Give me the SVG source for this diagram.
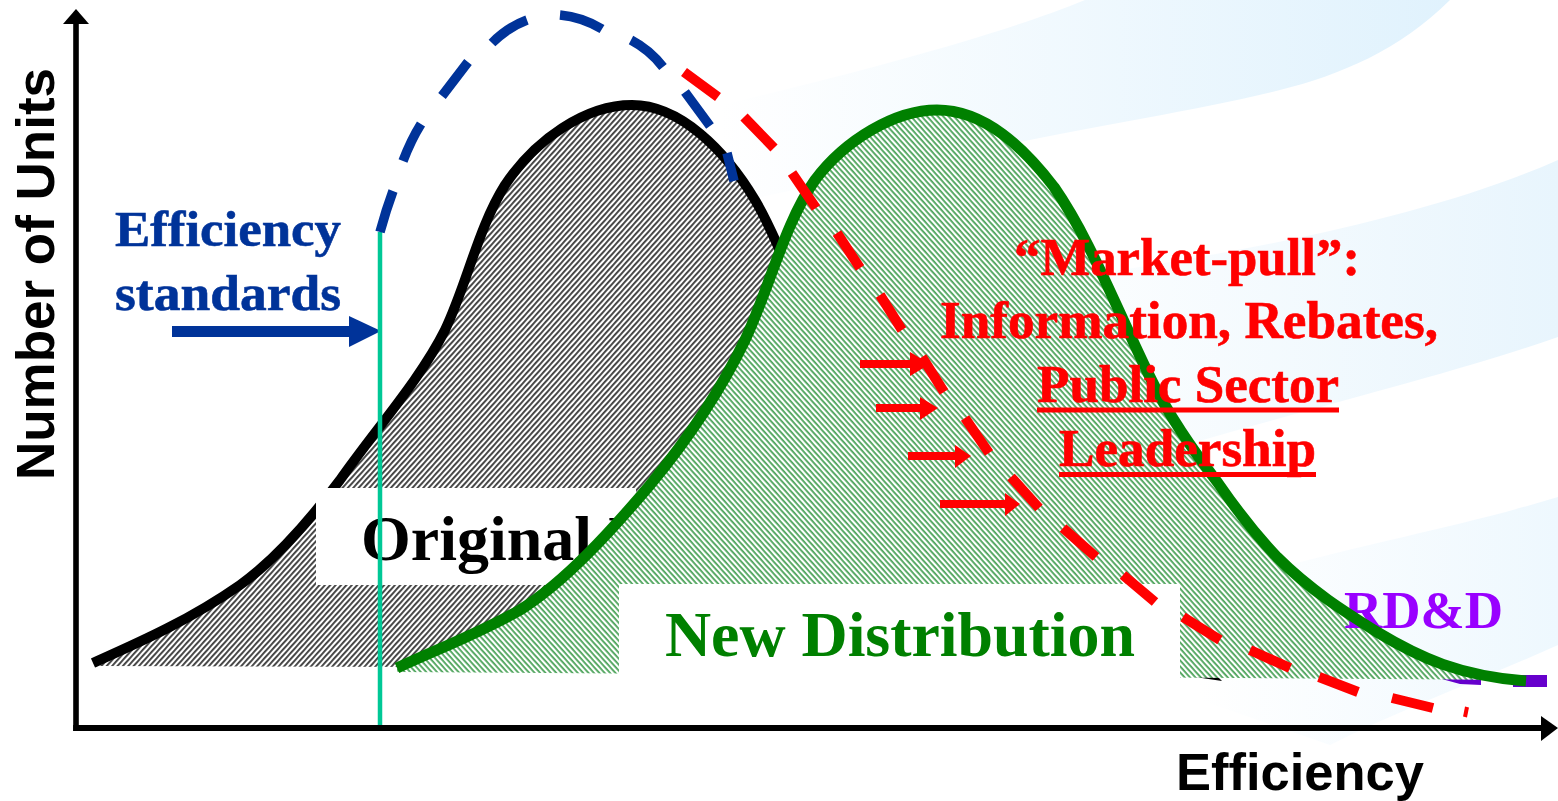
<svg xmlns="http://www.w3.org/2000/svg" width="1558" height="801" viewBox="0 0 1558 801">
<style>
.serif{font-family:"Liberation Serif","Times New Roman",serif;font-weight:700}
.sans{font-family:"Liberation Sans",Arial,sans-serif;font-weight:700}
.red{fill:#ff0000;stroke:#ff0000;stroke-width:.6px;font-size:52px}
.blue{fill:#003399;stroke:#003399;stroke-width:.6px;font-size:51px}
.big{font-size:64px}
.rs{fill:none;stroke:#ff0000;stroke-width:10}
.bs{fill:none;stroke:#003399;stroke-width:9.500}
</style>
<defs>
<linearGradient id="g1" gradientUnits="userSpaceOnUse" x1="720" y1="0" x2="1450" y2="0"><stop offset="0" stop-color="#ffffff"/><stop offset="1" stop-color="#e0f2fd"/></linearGradient>
<linearGradient id="g2" gradientUnits="userSpaceOnUse" x1="1000" y1="0" x2="1558" y2="0"><stop offset="0" stop-color="#ffffff"/><stop offset="1" stop-color="#e8f5fd"/></linearGradient>
<linearGradient id="g3" gradientUnits="userSpaceOnUse" x1="1200" y1="0" x2="1558" y2="0"><stop offset="0" stop-color="#ffffff"/><stop offset="1" stop-color="#eef8fe"/></linearGradient>
<pattern id="hb" patternUnits="userSpaceOnUse" width="4" height="4" patternTransform="rotate(-48)">
<rect width="4" height="4" fill="#ffffff"/><rect width="4" height="1.900" fill="#404040"/>
</pattern>
<pattern id="hg" patternUnits="userSpaceOnUse" width="4" height="4" patternTransform="rotate(48)">
<rect width="4" height="4" fill="#ffffff"/><rect width="4" height="1.800" fill="#4ca35a"/>
</pattern>
</defs>
<rect width="1558" height="801" fill="#ffffff"/>
<g id="background">
<path fill="url(#g1)" d="M700,110 C850,75 1000,35 1085,0 L1450,0 C1400,50 1340,75 1280,90 C1200,110 1100,125 1020,142 L700,210 Z"/>
<path fill="url(#g2)" d="M900,300 C1150,270 1400,230 1558,160 L1558,337 C1450,375 1300,410 1100,470 L900,500 Z"/>
<path fill="url(#g3)" d="M1200,590 C1350,545 1450,530 1558,497 L1558,645 C1480,680 1400,710 1330,745 L1200,700 Z"/>
</g>
<g id="original-distribution">
<path fill="url(#hb)" d="M100,666 L93,663 C140,642 190,620 240,585 C275,560 310,520 340,480 C375,430 420,380 445,330 C467,284 478,228 505,185 C535,140 585,105 632,105 C680,105 725,150 755,200 C768,222 775,240 782,255 L782,668 Z"/>
<path fill="none" stroke="#000000" stroke-width="10" d="M93,663 C140,642 190,620 240,585 C275,560 310,520 340,480 C375,430 420,380 445,330 C467,284 478,228 505,185 C535,140 585,105 632,105 C680,105 725,150 755,200 C768,222 775,240 782,255"/>
<path fill="#000000" d="M1195,677 L1218,677 L1222,681 Z"/>
<rect x="316" y="488" width="320" height="97" fill="#ffffff"/>
<text class="serif big" x="361" y="560" fill="#000000">Original D</text>
</g>
<g id="efficiency-standards">
<text class="serif blue" x="115" y="246" textLength="226" lengthAdjust="spacingAndGlyphs">Efficiency</text>
<text class="serif blue" x="115" y="310" textLength="226" lengthAdjust="spacingAndGlyphs">standards</text>
<rect x="172" y="326" width="178" height="11" fill="#003399"/>
<polygon points="349,316 381,331 349,347" fill="#003399"/>
<line x1="380" y1="232" x2="380" y2="728" stroke="#00c896" stroke-width="4.500"/>
</g>
<g id="rdd">
<path fill="#6600cc" d="M1438,678 L1481,678 L1481,685 L1460,684 Z"/>
<rect x="1513" y="675" width="34" height="12" fill="#6600cc"/>
</g>
<g id="new-distribution">
<path fill="url(#hg)" d="M397,672 L397,668 C440,648 478,634 520,610 C565,582 612,530 650,485 C683,445 720,392 745,340 C768,292 785,222 815,180 C845,140 895,110 937,110 C985,110 1024,148 1054,187 C1088,236 1112,298 1148,373 C1168,415 1193,450 1218,483 C1238,512 1256,535 1277,557 C1310,590 1345,612 1377,632 C1420,658 1460,676 1526,681 L1526,680 Z"/>
<text class="serif" x="1344" y="628" font-size="52" textLength="159" lengthAdjust="spacingAndGlyphs" fill="#9900ff">RD&amp;D</text>
<path fill="none" stroke="#008000" stroke-width="11" d="M397,668 C440,648 478,634 520,610 C565,582 612,530 650,485 C683,445 720,392 745,340 C768,292 785,222 815,180 C845,140 895,110 937,110 C985,110 1024,148 1054,187 C1088,236 1112,298 1148,373 C1168,415 1193,450 1218,483 C1238,512 1256,535 1277,557 C1310,590 1345,612 1377,632 C1420,658 1460,676 1526,681"/>
<rect x="619" y="584" width="561" height="94" fill="#ffffff"/>
<text class="serif big" x="665" y="656" textLength="470" lengthAdjust="spacingAndGlyphs" fill="#008000">New Distribution</text>
</g>
<g id="connectors">
<g id="axes" fill="#000000" stroke="none">
<rect x="73.200" y="22" width="5.600" height="709"/>
<rect x="73.200" y="725" width="1470" height="6"/>
<polygon points="76,9 89,24 63,24"/>
<polygon points="1558,728 1541,716 1541,741"/>
</g>
<path class="bs" d="M380,232 Q386,210 393,191 M403,161 Q411,140 421,124 M442,96 L468,62 M492,43 Q508,27 527,20 M560,15 Q582,17 602,29 M631,40 Q650,50 663,67 M685,92 L710,126 M727,153 L734,181"/>
<path class="rs" d="M684,72 L718,97 M744,117 L774,148 M792,173 L816,208 M837,233 L860,268 M880,295 L902,330 M922,357 L944,392 M965,418 L989,453 M1011,477 L1039,508 M1063,528 L1096,557 M1123,575 L1155,602 M1183,617 L1220,640 M1250,650 L1290,668 M1319,677 L1358,692 M1392,698 L1433,708"/>
<path fill="none" stroke="#ff0000" stroke-width="4" d="M1467,707 L1465,717"/>
<g fill="#ff0000">
<rect x="860" y="360" width="56" height="8"/><polygon points="910,352 930,364 910,376"/>
<rect x="876" y="404" width="48" height="8"/><polygon points="920,397 938,408 920,420"/>
<rect x="908" y="452" width="50" height="8"/><polygon points="955,445 971,456 955,468"/>
<rect x="940" y="500" width="66" height="8"/><polygon points="1005,493 1020,504 1005,516"/>
</g>
</g>
<g id="market-pull">
<text class="serif red" x="1014" y="275" textLength="346" lengthAdjust="spacingAndGlyphs">“Market-pull”:</text>
<text class="serif red" x="940" y="338" textLength="498" lengthAdjust="spacingAndGlyphs">Information, Rebates,</text>
<text class="serif red" x="1037" y="402" textLength="302" lengthAdjust="spacingAndGlyphs">Public Sector</text>
<rect x="1037" y="407.500" width="302" height="5" fill="#ff0000"/>
<text class="serif red" x="1059" y="466" textLength="257" lengthAdjust="spacingAndGlyphs">Leadership</text>
<rect x="1059" y="472" width="257" height="5" fill="#ff0000"/>
</g>
<g id="axis-labels">
<text class="sans" transform="translate(54,480) rotate(-90)" font-size="54" textLength="412" lengthAdjust="spacingAndGlyphs" fill="#000000">Number of Units</text>
<text class="sans" x="1176" y="790" font-size="52" textLength="248" lengthAdjust="spacingAndGlyphs" fill="#000000">Efficiency</text>
</g>
</svg>
